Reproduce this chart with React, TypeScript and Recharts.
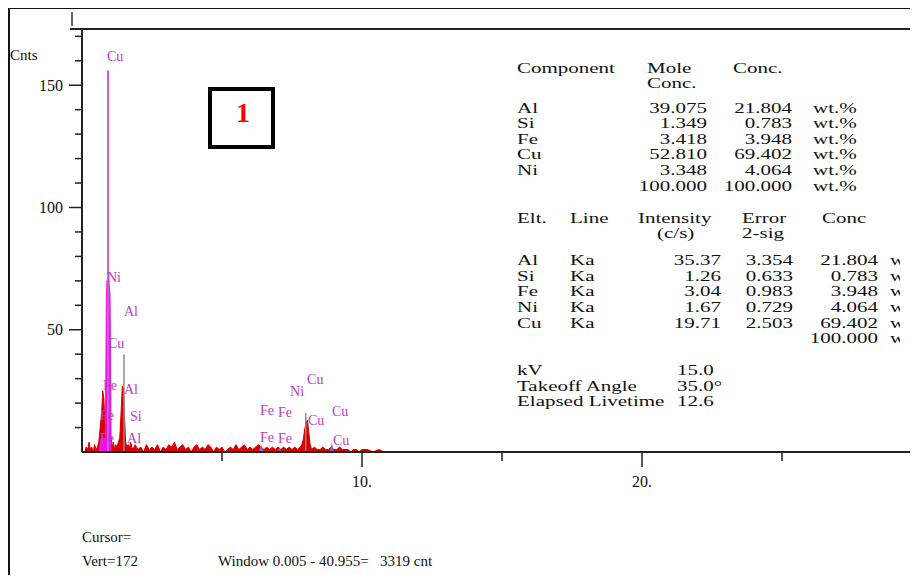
import React from "react";
import { ComposedChart, Area, Scatter, XAxis, YAxis, ReferenceLine } from "recharts";

// EDS spectrum, [keV, counts]
const redSpectrum: [number, number][] = [
  [0.1, 0], [0.15, 2], [0.2, 1], [0.25, 4], [0.3, 1], [0.35, 2], [0.4, 0], [0.45, 3],
  [0.5, 1], [0.55, 2], [0.6, 4], [0.65, 10], [0.7, 16], [0.74, 25], [0.78, 22], [0.82, 12],
  [0.85, 8], [0.95, 8], [1.04, 6], [1.08, 2], [1.12, 4], [1.16, 1], [1.2, 3], [1.25, 2],
  [1.3, 4], [1.35, 6], [1.4, 17], [1.44, 27], [1.48, 26], [1.52, 14], [1.56, 4], [1.6, 2],
  [1.65, 3], [1.7, 2], [1.74, 4], [1.78, 2], [1.82, 1], [1.9, 3], [2.0, 1], [2.1, 2],
  [2.2, 0], [2.3, 3], [2.4, 1], [2.5, 2], [2.6, 1], [2.7, 3], [2.8, 0], [2.9, 2],
  [3.0, 1], [3.1, 3], [3.2, 2], [3.3, 4], [3.4, 1], [3.5, 2], [3.6, 3], [3.7, 1],
  [3.8, 2], [3.9, 0], [4.0, 2], [4.1, 3], [4.2, 1], [4.3, 2], [4.4, 1], [4.5, 3],
  [4.6, 2], [4.7, 0], [4.8, 2], [4.9, 1], [5.0, 2], [5.1, 0], [5.2, 1], [5.3, 2],
  [5.4, 1], [5.5, 3], [5.6, 1], [5.7, 2], [5.8, 3], [5.9, 1], [6.0, 2], [6.1, 1],
  [6.2, 2], [6.3, 3], [6.4, 2], [6.5, 1], [6.6, 2], [6.7, 1], [6.8, 2], [6.9, 1],
  [7.0, 2], [7.1, 1], [7.2, 2], [7.3, 1], [7.4, 2], [7.5, 1], [7.6, 2], [7.7, 1],
  [7.8, 2], [7.85, 3], [7.9, 5], [7.95, 9], [8.0, 12], [8.05, 13], [8.1, 8], [8.15, 3],
  [8.2, 1], [8.3, 2], [8.4, 1], [8.5, 1], [8.6, 2], [8.7, 1], [8.8, 1], [8.9, 2],
  [9.0, 1], [9.1, 1], [9.2, 2], [9.3, 1], [9.4, 1], [9.5, 1], [9.6, 0], [9.7, 1],
  [9.8, 1], [9.9, 0], [10.0, 1], [10.2, 1], [10.4, 0], [10.6, 1], [10.8, 0], [11.0, 0],
];

// Ni/Cu L region drawn in magenta
const highlightPeak: [number, number][] = [
  [0.6, 0], [0.66, 4], [0.72, 7], [0.78, 5], [0.83, 6], [0.85, 30], [0.87, 62], [0.89, 70],
  [0.93, 71], [0.97, 69], [1.0, 64], [1.02, 40], [1.04, 0],
];

const minorPeaks: [number, number][] = [
  [6.3, 0], [6.4, 3], [6.5, 0], [7.0, 0], [7.06, 2], [7.12, 0], [8.85, 0], [8.92, 4], [9.0, 0],
];

const cuMarker = { kev: 0.93, cnt: 156 };
const greyMarkers = [
  { kev: 1.5, cnt: 40 },
  { kev: 7.99, cnt: 16 },
];

const peakLabels = [
  { el: "Cu", kev: 0.89, cnt: 161.9 },
  { el: "Ni", kev: 0.89, cnt: 71.7 },
  { el: "Al", kev: 1.5, cnt: 57.8 },
  { el: "Cu", kev: 0.93, cnt: 44.7 },
  { el: "Fe", kev: 0.75, cnt: 27.5 },
  { el: "Al", kev: 1.5, cnt: 25.8 },
  { el: "Fe", kev: 0.64, cnt: 15.2 },
  { el: "Si", kev: 1.71, cnt: 14.8 },
  { el: "Fe", kev: 0.64, cnt: 5.7 },
  { el: "Al", kev: 1.61, cnt: 5.7 },
  { el: "Ni", kev: 7.43, cnt: 25 },
  { el: "Cu", kev: 8.04, cnt: 29.9 },
  { el: "Fe", kev: 6.36, cnt: 17.2 },
  { el: "Fe", kev: 7.0, cnt: 16.4 },
  { el: "Cu", kev: 8.07, cnt: 13.1 },
  { el: "Cu", kev: 8.93, cnt: 16.8 },
  { el: "Fe", kev: 6.36, cnt: 6.1 },
  { el: "Fe", kev: 7.0, cnt: 5.7 },
  { el: "Cu", kev: 8.96, cnt: 4.9 },
];

const xTicks = [5, 10, 15, 20, 25, 30];
const yTicks = [10, 20, 30, 40, 50, 60, 70, 80, 90, 100, 110, 120, 130, 140, 150, 160, 170];

const componentRows = [
  { el: "Al", mole: "39.075", conc: "21.804" },
  { el: "Si", mole: "1.349", conc: "0.783" },
  { el: "Fe", mole: "3.418", conc: "3.948" },
  { el: "Cu", mole: "52.810", conc: "69.402" },
  { el: "Ni", mole: "3.348", conc: "4.064" },
  { el: "", mole: "100.000", conc: "100.000" },
];

const lineRows = [
  { el: "Al", line: "Ka", intensity: "35.37", error: "3.354", conc: "21.804" },
  { el: "Si", line: "Ka", intensity: "1.26", error: "0.633", conc: "0.783" },
  { el: "Fe", line: "Ka", intensity: "3.04", error: "0.983", conc: "3.948" },
  { el: "Ni", line: "Ka", intensity: "1.67", error: "0.729", conc: "4.064" },
  { el: "Cu", line: "Ka", intensity: "19.71", error: "2.503", conc: "69.402" },
  { el: "", line: "", intensity: "", error: "", conc: "100.000" },
];

const conditions = [
  { name: "kV", value: "15.0" },
  { name: "Takeoff Angle", value: "35.0\u00b0" },
  { name: "Elapsed Livetime", value: "12.6" },
];

const toPoints = (rows: [number, number][]) => rows.map(([kev, cnt]) => ({ kev, cnt }));

const SERIF = "'Liberation Serif', 'Times New Roman', serif";
const AXIS = "#222";

const YTick = (props: any) => {
  const { x, y, payload } = props;
  const major = payload.value % 50 === 0;
  return (
    <g>
      <line x1={x - (major ? 13 : 7)} x2={x} y1={y} y2={y} stroke={AXIS} strokeWidth={1.5} />
      {major && (
        <text x={x - 19} y={y} dy="0.35em" textAnchor="end" fontFamily={SERIF} fontSize={16} fill="#111">
          {payload.value}
        </text>
      )}
    </g>
  );
};

const XTick = (props: any) => {
  const { x, y, payload } = props;
  const major = payload.value % 10 === 0;
  return (
    <g>
      <line x1={x} x2={x} y1={y} y2={y + (major ? 15 : 9)} stroke={AXIS} strokeWidth={1.5} />
      {major && (
        <text x={x} y={y + 29} dy="0.35em" textAnchor="middle" fontFamily={SERIF} fontSize={16} fill="#111">
          {payload.value}.
        </text>
      )}
    </g>
  );
};

const PeakLabel = (props: any) => {
  const { cx, cy, payload } = props;
  return (
    <text x={cx} y={cy} dy="0.35em" fontFamily={SERIF} fontSize={14} fill="#c23ac6">
      {payload.el}
    </text>
  );
};

// wide table font: serif stretched horizontally
const T = ({ x, y, anchor = "start", children }: any) => (
  <text
    transform={`translate(${x},${y}) scale(1.5,1)`}
    textAnchor={anchor}
    dy="0.35em"
    fontFamily={SERIF}
    fontSize={14}
    fill="#111"
  >
    {children}
  </text>
);

const rows1 = [108, 123.5, 139, 154.5, 170, 186];
const rows2 = [260, 276, 291, 307, 323, 338];
const rows3 = [370, 386, 401];

export default function App() {
  return (
    <div style={{ position: "relative", margin: -8, width: 918, height: 583, overflow: "hidden", background: "#fff" }}>
      <div style={{ position: "absolute", left: 0, top: 0 }}>
        <ComposedChart width={1018} height={540} margin={{ top: 29, right: 12, bottom: 0, left: 0 }}>
          <XAxis
            dataKey="kev"
            type="number"
            domain={[0, 33]}
            ticks={xTicks}
            interval={0}
            height={88}
            tickSize={0}
            tickMargin={0}
            tickLine={false}
            tick={<XTick />}
            axisLine={{ stroke: AXIS, strokeWidth: 2 }}
          />
          <YAxis
            type="number"
            domain={[0, 173]}
            ticks={yTicks}
            interval={0}
            width={82}
            tickSize={0}
            tickMargin={0}
            tickLine={false}
            tick={<YTick />}
            axisLine={{ stroke: AXIS, strokeWidth: 2 }}
          />
          <Area
            data={toPoints(redSpectrum)}
            dataKey="cnt"
            type="linear"
            stroke="#d80000"
            strokeWidth={1}
            fill="#d80000"
            fillOpacity={1}
            isAnimationActive={false}
          />
          <Area
            data={toPoints(highlightPeak)}
            dataKey="cnt"
            type="linear"
            stroke="#f010e8"
            strokeWidth={1}
            fill="#f010e8"
            fillOpacity={1}
            isAnimationActive={false}
          />
          <Area
            data={toPoints(minorPeaks)}
            dataKey="cnt"
            type="linear"
            stroke="none"
            fill="#8a6ad0"
            fillOpacity={1}
            isAnimationActive={false}
          />
          {greyMarkers.map((m, i) => (
            <ReferenceLine
              key={i}
              segment={[{ x: m.kev, y: 0 }, { x: m.kev, y: m.cnt }]}
              stroke="#8c8c8c"
              strokeWidth={1.5}
            />
          ))}
          <ReferenceLine
            segment={[{ x: cuMarker.kev, y: 0 }, { x: cuMarker.kev, y: cuMarker.cnt }]}
            stroke="#c860d0"
            strokeWidth={2}
          />
          <Scatter data={peakLabels} dataKey="cnt" shape={<PeakLabel />} isAnimationActive={false} />
        </ComposedChart>
      </div>

      <svg width={918} height={583} style={{ position: "absolute", left: 0, top: 0, pointerEvents: "none" }}>
        <defs>
          <clipPath id="tableClip">
            <rect x={0} y={0} width={900} height={583} />
          </clipPath>
        </defs>
        {/* frame */}
        <line x1={9} y1={8} x2={918} y2={8} stroke="#111" strokeWidth={2} />
        <line x1={9} y1={7} x2={9} y2={583} stroke="#111" strokeWidth={2} />
        <line x1={70} y1={29} x2={918} y2={29} stroke={AXIS} strokeWidth={2} />
        <line x1={72} y1={12} x2={72} y2={26} stroke="#333" strokeWidth={1.5} />
        <text x={10} y={55} dy="0.35em" fontFamily={SERIF} fontSize={15} fill="#111">Cnts</text>

        {/* marker box */}
        <rect x={210} y={89} width={63} height={58} fill="#fff" stroke="#000" strokeWidth={4} />
        <text x={243} y={112} dy="0.35em" textAnchor="middle" fontFamily={SERIF} fontSize={28} fontWeight="bold" fill="#ff0000">1</text>

        {/* quantification tables */}
        <g clipPath="url(#tableClip)">
          <T x={517} y={68}>Component</T>
          <T x={647} y={68}>Mole</T>
          <T x={647} y={83}>Conc.</T>
          <T x={733} y={68}>Conc.</T>
          {componentRows.map((r, i) => (
            <g key={i}>
              <T x={517} y={rows1[i]}>{r.el}</T>
              <T x={707} y={rows1[i]} anchor="end">{r.mole}</T>
              <T x={792} y={rows1[i]} anchor="end">{r.conc}</T>
              <T x={813} y={rows1[i]}>wt.%</T>
            </g>
          ))}

          <T x={517} y={218}>Elt.</T>
          <T x={570} y={218}>Line</T>
          <T x={638} y={218}>Intensity</T>
          <T x={657} y={233}>(c/s)</T>
          <T x={742} y={218}>Error</T>
          <T x={742} y={233}>2-sig</T>
          <T x={822} y={218}>Conc</T>
          {lineRows.map((r, i) => (
            <g key={i}>
              <T x={517} y={rows2[i]}>{r.el}</T>
              <T x={570} y={rows2[i]}>{r.line}</T>
              <T x={721} y={rows2[i]} anchor="end">{r.intensity}</T>
              <T x={793} y={rows2[i]} anchor="end">{r.error}</T>
              <T x={878} y={rows2[i]} anchor="end">{r.conc}</T>
              <T x={890} y={rows2[i]}>wt.%</T>
            </g>
          ))}

          {conditions.map((c, i) => (
            <g key={i}>
              <T x={517} y={rows3[i]}>{c.name}</T>
              <T x={677} y={rows3[i]}>{c.value}</T>
            </g>
          ))}
        </g>

        {/* status text */}
        <text x={82} y={537} dy="0.35em" fontFamily={SERIF} fontSize={15} fill="#111">Cursor=</text>
        <text x={82} y={561} dy="0.35em" fontFamily={SERIF} fontSize={15} fill="#111">Vert=172</text>
        <text
          x={218}
          y={561}
          dy="0.35em"
          fontFamily={SERIF}
          fontSize={15}
          fill="#111"
          xmlSpace="preserve"
          style={{ whiteSpace: "pre" }}
        >
          {"Window 0.005 - 40.955=   3319 cnt"}
        </text>
      </svg>
    </div>
  );
}
